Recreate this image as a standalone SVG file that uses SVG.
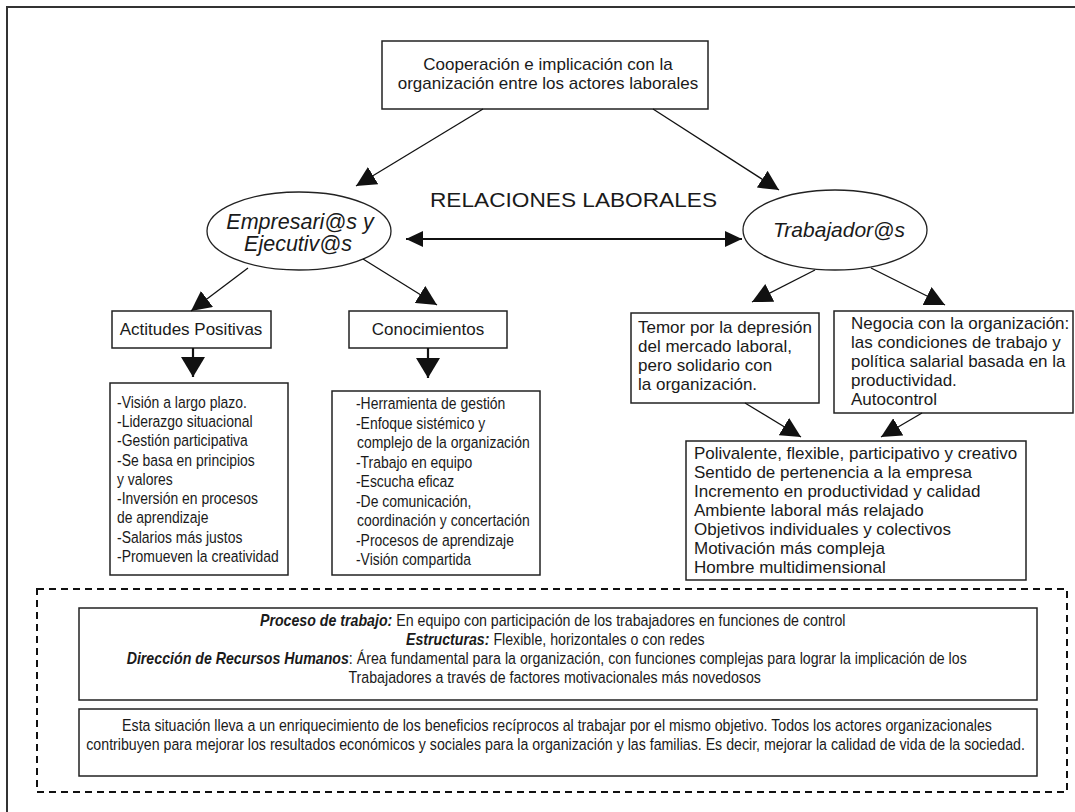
<svg xmlns="http://www.w3.org/2000/svg" width="1075" height="812" viewBox="0 0 1075 812">
<style>
.box{fill:#fff;stroke:#222;stroke-width:1.5}
.t{font-family:"Liberation Sans",Arial,sans-serif;font-size:17px;fill:#1a1a1a}
.n{font-family:"Liberation Sans",Arial,sans-serif;font-size:17px;fill:#1a1a1a}
.s{font-family:"Liberation Sans",Arial,sans-serif;font-size:16.5px;fill:#1a1a1a}
.ei{font-family:"Liberation Sans",Arial,sans-serif;font-size:21px;font-style:italic;fill:#1a1a1a}
.bi{font-weight:bold;font-style:italic}
.c{stroke:#111;stroke-width:1.3;fill:none}
.d{stroke:#111;stroke-width:2.2;fill:none}
</style>
<defs>
<marker id="ah" viewBox="0 0 20 20" refX="20" refY="10" markerWidth="20" markerHeight="20" markerUnits="userSpaceOnUse" orient="auto">
<path d="M0,0 L20,10 L0,20 z" fill="#111"/>
</marker>
<marker id="vh" viewBox="0 0 20 24" refX="20" refY="12" markerWidth="20" markerHeight="24" markerUnits="userSpaceOnUse" orient="auto">
<path d="M0,0 L20,12 L0,24 z" fill="#111"/>
</marker>
<marker id="dh" viewBox="0 0 17 16" refX="17" refY="8" markerWidth="17" markerHeight="16" markerUnits="userSpaceOnUse" orient="auto-start-reverse">
<path d="M0,0 L17,8 L0,16 z" fill="#111"/>
</marker>
</defs>
<rect width="1075" height="812" fill="#fff"/>
<rect x="7" y="7" width="1100" height="850" fill="none" stroke="#333" stroke-width="2"/>

<g id="top">
<rect class="box" x="382" y="41" width="326" height="68"/>
<text class="t" x="548" y="70" text-anchor="middle">Cooperación e implicación con la</text>
<text class="t" x="548" y="89" text-anchor="middle">organización entre los actores laborales</text>
</g>

<g id="empresarios">
<ellipse cx="299" cy="231" rx="92" ry="39" fill="#fff" stroke="#222" stroke-width="1.3"/>
<text class="ei" x="300" y="229" text-anchor="middle" style="font-size:21.5px">Empresari@s y</text>
<text class="ei" x="298" y="251" text-anchor="middle" style="font-size:21.5px">Ejecutiv@s</text>
</g>

<g id="trabajadores">
<ellipse cx="835" cy="230" rx="92" ry="40" fill="#fff" stroke="#222" stroke-width="1.3"/>
<text class="ei" x="839" y="237" text-anchor="middle">Trabajador@s</text>
</g>

<g id="relaciones">
<text class="t" x="430" y="207" textLength="287" lengthAdjust="spacingAndGlyphs" style="font-size:21px">RELACIONES LABORALES</text>
</g>

<g id="actitudes">
<rect class="box" x="112" y="311" width="159" height="37"/>
<text class="t" x="191" y="335" text-anchor="middle">Actitudes Positivas</text>
</g>

<g id="conocimientos">
<rect class="box" x="349" y="311" width="158" height="37"/>
<text class="t" x="428" y="335" text-anchor="middle">Conocimientos</text>
</g>

<g id="actitudes-lista">
<rect class="box" x="110" y="383" width="178" height="192"/>
<text class="n" transform="scale(0.82 1)">
<tspan x="142.7" y="408">-Visión a largo plazo.</tspan>
<tspan x="142.7" y="427">-Liderazgo situacional</tspan>
<tspan x="142.7" y="446">-Gestión participativa</tspan>
<tspan x="142.7" y="466">-Se basa en principios</tspan>
<tspan x="142.7" y="485">y valores</tspan>
<tspan x="142.7" y="504">-Inversión en procesos</tspan>
<tspan x="142.7" y="523">de aprendizaje</tspan>
<tspan x="142.7" y="543">-Salarios más justos</tspan>
<tspan x="142.7" y="562">-Promueven la creatividad</tspan>
</text>
</g>

<g id="conocimientos-lista">
<rect class="box" x="332" y="391" width="208" height="184"/>
<text class="n" transform="scale(0.82 1)">
<tspan x="434.1" y="409">-Herramienta de gestión</tspan>
<tspan x="434.1" y="429">-Enfoque sistémico y</tspan>
<tspan x="435.4" y="448">complejo de la organización</tspan>
<tspan x="434.1" y="468">-Trabajo en equipo</tspan>
<tspan x="434.1" y="487">-Escucha eficaz</tspan>
<tspan x="434.1" y="507">-De comunicación,</tspan>
<tspan x="435.4" y="526">coordinación y concertación</tspan>
<tspan x="434.1" y="546">-Procesos de aprendizaje</tspan>
<tspan x="434.1" y="565">-Visión compartida</tspan>
</text>
</g>

<g id="temor">
<rect class="box" x="631" y="313" width="188" height="90"/>
<text class="t">
<tspan x="638" y="333">Temor por la depresión</tspan>
<tspan x="638" y="352">del mercado laboral,</tspan>
<tspan x="638" y="371">pero solidario con</tspan>
<tspan x="638" y="390">la organización.</tspan>
</text>
</g>

<g id="negocia">
<rect class="box" x="834" y="311" width="239" height="102"/>
<text class="t">
<tspan x="851" y="329">Negocia con la organización:</tspan>
<tspan x="851" y="348">las condiciones de trabajo y</tspan>
<tspan x="851" y="367">política salarial basada en la</tspan>
<tspan x="851" y="386">productividad.</tspan>
<tspan x="851" y="405">Autocontrol</tspan>
</text>
</g>

<g id="polivalente">
<rect class="box" x="686" y="441" width="340" height="139"/>
<text class="t">
<tspan x="694" y="459">Polivalente, flexible, participativo y creativo</tspan>
<tspan x="694" y="478">Sentido de pertenencia a la empresa</tspan>
<tspan x="694" y="497">Incremento en productividad y calidad</tspan>
<tspan x="694" y="516">Ambiente laboral más relajado</tspan>
<tspan x="694" y="535">Objetivos individuales y colectivos</tspan>
<tspan x="694" y="554">Motivación más compleja</tspan>
<tspan x="694" y="573">Hombre multidimensional</tspan>
</text>
</g>

<g id="marco-inferior">
<rect x="37" y="589" width="1030" height="203" fill="none" stroke="#111" stroke-width="2" stroke-dasharray="7,5"/>
</g>

<g id="proceso">
<rect class="box" x="79" y="608" width="958" height="92"/>
<text class="s" text-anchor="middle" transform="scale(0.86 1)">
<tspan x="645" y="626"><tspan class="bi">Proceso de trabajo:</tspan> En equipo con participación de los trabajadores en funciones de control</tspan>
<tspan x="648" y="645"><tspan class="bi">Estructuras:</tspan> Flexible, horizontales o con redes</tspan>
<tspan x="638" y="664"><tspan class="bi">Dirección de Recursos Humanos</tspan>: Área fundamental para la organización, con funciones complejas para lograr la implicación de los</tspan>
<tspan x="645" y="683">Trabajadores a través de factores motivacionales más novedosos</tspan>
</text>
</g>

<g id="situacion">
<rect class="box" x="79" y="709" width="958" height="67"/>
<text class="s" text-anchor="middle" transform="scale(0.86 1)">
<tspan x="650" y="731">Esta situación lleva a un enriquecimiento de los beneficios recíprocos al trabajar por el mismo objetivo. Todos los actores organizacionales</tspan>
<tspan x="646" y="750">contribuyen para mejorar los resultados económicos y sociales para la organización y las familias. Es decir, mejorar la calidad de vida de la sociedad.</tspan>
</text>
</g>

<g id="connectors">
<line class="c" x1="483" y1="109" x2="356" y2="186" marker-end="url(#ah)"/>
<line class="c" x1="653" y1="109" x2="779" y2="190" marker-end="url(#ah)"/>
<line class="d" x1="406" y1="239" x2="742" y2="239" marker-start="url(#dh)" marker-end="url(#dh)"/>
<line class="c" x1="248" y1="268" x2="191" y2="311" marker-end="url(#ah)"/>
<line class="c" x1="363" y1="259" x2="437" y2="305" marker-end="url(#ah)"/>
<line class="d" x1="193" y1="348" x2="193" y2="377" marker-end="url(#vh)"/>
<line class="d" x1="428" y1="348" x2="428" y2="378" marker-end="url(#vh)"/>
<line class="c" x1="815" y1="270" x2="752" y2="302" marker-end="url(#ah)"/>
<line class="c" x1="871" y1="268" x2="945" y2="305" marker-end="url(#ah)"/>
<line class="c" x1="745" y1="403" x2="801" y2="437" marker-end="url(#ah)"/>
<line class="c" x1="922" y1="413" x2="881" y2="437" marker-end="url(#ah)"/>
</g>
</svg>
